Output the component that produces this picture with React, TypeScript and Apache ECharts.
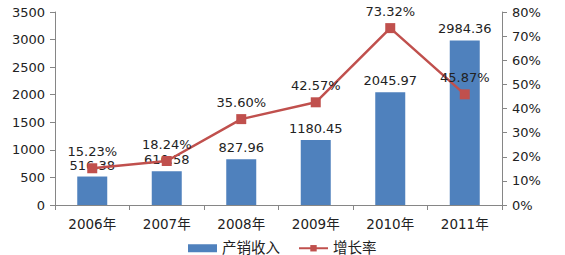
import React, { useEffect, useRef } from "react";
import * as echarts from "echarts";

const categories = ["2006年", "2007年", "2008年", "2009年", "2010年", "2011年"];
const revenue = [516.38, 610.58, 827.96, 1180.45, 2045.97, 2984.36];
const growth = [15.23, 18.24, 35.6, 42.57, 73.32, 45.87];
const leftTicks = [0, 500, 1000, 1500, 2000, 2500, 3000, 3500];

const FONT = "'DejaVu Sans', 'Noto Sans CJK SC', sans-serif";

export default function App() {
  const ref = useRef<HTMLDivElement>(null);
  useEffect(() => {
    document.body.style.margin = "0";
    const chart = echarts.init(ref.current!, undefined, { renderer: "svg" });
    const axisLine = { show: true, lineStyle: { color: "#868686", width: 1 } };
    chart.setOption({
      animation: false,
      textStyle: { fontFamily: FONT },
      grid: { left: 55, right: 63, top: 12, bottom: 50, containLabel: false, outerBoundsMode: "none" },
      legend: {
        top: 236,
        left: 183,
        itemGap: 18,
        itemWidth: 29,
        itemHeight: 8,
        textStyle: { fontFamily: FONT, fontSize: 14.5, color: "#222" },
        data: [
          { name: "产销收入", icon: "rect", itemStyle: {} },
          { name: "增长率" },
        ],
      },
      xAxis: {
        type: "category",
        data: categories,
        axisLine,
        axisTick: { show: true, alignWithLabel: false, length: 5, lineStyle: { color: "#868686" } },
        axisLabel: { fontSize: 13.5, color: "#222", margin: 12, fontFamily: FONT },
      },
      yAxis: [
        {
          type: "value",
          min: leftTicks[0],
          max: leftTicks[leftTicks.length - 1],
          interval: 500,
          axisLine,
          axisTick: { show: true, length: 5, lineStyle: { color: "#868686" } },
          splitLine: { show: false },
          axisLabel: { fontSize: 13, color: "#222", margin: 10, fontFamily: FONT, formatter: (v: number) => String(v) },
        },
        {
          type: "value",
          min: 0,
          max: 80,
          interval: 10,
          position: "right",
          axisLine,
          axisTick: { show: true, length: 5, lineStyle: { color: "#868686" } },
          splitLine: { show: false },
          axisLabel: { fontSize: 13, color: "#222", margin: 10, formatter: "{value}%", fontFamily: FONT },
        },
      ],
      series: [
        {
          name: "产销收入",
          type: "bar",
          data: revenue,
          barWidth: 30,
          itemStyle: { color: "#4F81BD" },
          label: {
            show: true,
            position: "top",
            fontSize: 13,
            color: "#222",
            fontFamily: FONT,
            formatter: (p: any) => p.value.toFixed(2),
          },
        },
        {
          name: "增长率",
          type: "line",
          yAxisIndex: 1,
          data: growth,
          symbol: "rect",
          symbolSize: 10,
          lineStyle: { color: "#C0504D", width: 2.5 },
          itemStyle: { color: "#C0504D" },
          label: {
            show: true,
            position: "top",
            fontSize: 13,
            color: "#222",
            fontFamily: FONT,
            formatter: (p: any) => p.value.toFixed(2) + "%",
          },
        },
      ],
    });
    return () => chart.dispose();
  }, []);
  return <div ref={ref} style={{ width: 565, height: 255 }} />;
}
